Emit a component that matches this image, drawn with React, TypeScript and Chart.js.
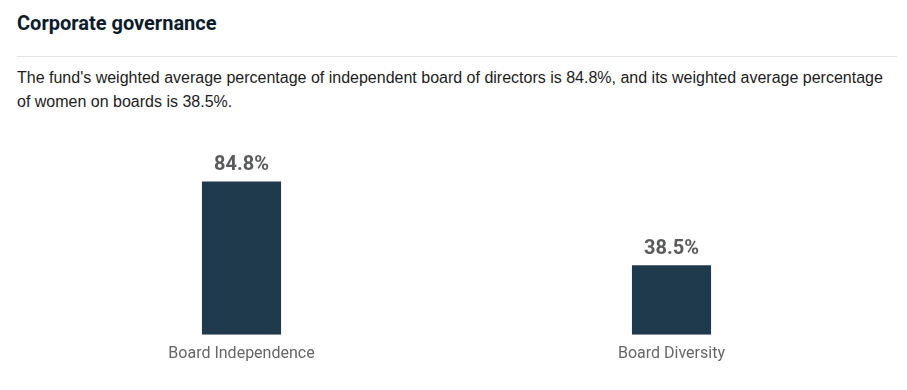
import React, { useEffect, useRef } from "react";
import { Chart, registerables } from "chart.js";

Chart.register(...registerables);

const title = "Corporate governance";
const description =
  "The fund's weighted average percentage of independent board of directors is 84.8%, and its weighted average percentage of women on boards is 38.5%.";
const categories = ["Board Independence", "Board Diversity"];
const values = [84.8, 38.5];
const valueLabels = ["84.8%", "38.5%"];

const valueLabelPlugin = {
  id: "valueLabels",
  afterDatasetsDraw(chart: any) {
    const ctx = chart.ctx;
    const meta = chart.getDatasetMeta(0);
    ctx.save();
    ctx.font = "bold 20px Roboto";
    ctx.fillStyle = "#5a5b5d";
    ctx.textAlign = "center";
    ctx.textBaseline = "middle";
    meta.data.forEach((bar: any, i: number) => {
      ctx.fillText(valueLabels[i], bar.x, bar.y - 16);
    });
    ctx.restore();
  },
};

export default function App() {
  const canvasRef = useRef<HTMLCanvasElement | null>(null);

  useEffect(() => {
    if (!canvasRef.current) return;
    const chart = new Chart(canvasRef.current, {
      type: "bar",
      data: {
        labels: categories,
        datasets: [
          {
            data: values,
            backgroundColor: "#1f3a4d",
            categoryPercentage: 1,
            barPercentage: 0.184,
          },
        ],
      },
      options: {
        animation: false,
        responsive: false,
        maintainAspectRatio: false,
        layout: { padding: { top: 24, bottom: 9, left: 9.5, right: 10.5 } },
        plugins: { legend: { display: false }, tooltip: { enabled: false } },
        scales: {
          y: { display: false, min: 0, max: 100 },
          x: {
            grid: { display: false, drawTicks: false },
            border: { display: false },
            ticks: {
              padding: 10,
              color: "#666666",
              font: { family: "Roboto", size: 16 },
            },
          },
        },
      },
      plugins: [valueLabelPlugin],
    });
    return () => chart.destroy();
  }, []);

  return (
    <div
      style={{
        position: "fixed",
        left: 0,
        top: 0,
        width: 907,
        height: 390,
        background: "#ffffff",
        overflow: "hidden",
      }}
    >
      <div
        style={{
          position: "absolute",
          left: 17,
          top: 9,
          fontFamily: "Roboto",
          fontWeight: 700,
          fontSize: 20,
          lineHeight: "28px",
          color: "#0b1c2c",
          whiteSpace: "nowrap",
        }}
      >
        {title}
      </div>
      <div
        style={{
          position: "absolute",
          left: 17,
          top: 56,
          width: 880,
          height: 1,
          background: "#e3e3e3",
        }}
      />
      <div
        style={{
          position: "absolute",
          left: 17,
          top: 66,
          width: 880,
          fontFamily: "'Liberation Sans', Arial, sans-serif",
          fontSize: 16,
          lineHeight: "24px",
          color: "#1c1c1c",
        }}
      >
        {description}
      </div>
      <canvas
        ref={canvasRef}
        width={880}
        height={253}
        style={{ position: "absolute", left: 17, top: 130, width: 880, height: 253 }}
      />
    </div>
  );
}
